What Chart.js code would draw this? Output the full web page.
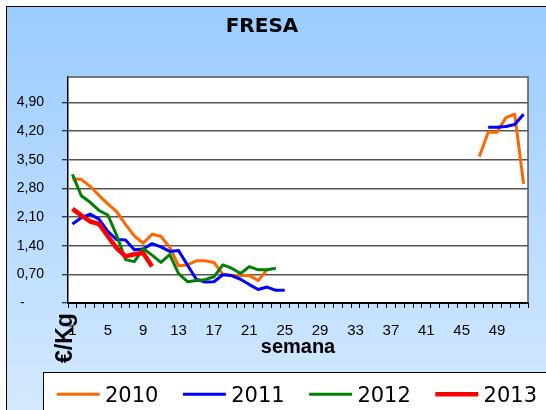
<!DOCTYPE html>
<html>
<head>
<meta charset="utf-8">
<script src="https://cdn.jsdelivr.net/npm/chart.js@4"></script>
<style>
  body { margin: 0; background: #fff; }
  #wrap { width: 546px; height: 410px; }
</style>
</head>
<body>
<div id="wrap"><canvas id="myChart" width="546" height="410"></canvas></div>
<script>
const weeks = ['1','2','3','4','5','6','7','8','9','10',
  '11','12','13','14','15','16','17','18','19','20',
  '21','22','23','24','25','26','27','28','29','30',
  '31','32','33','34','35','36','37','38','39','40',
  '41','42','43','44','45','46','47','48','49','50',
  '51','52'];

const years = ['2010', '2011', '2012', '2013'];

// precio €/Kg por semana (null = sin dato)
const fresa2010 = [3.03, 3.02, 2.85, 2.63, 2.42, 2.23, 1.92, 1.64, 1.46, 1.68,
  1.63, 1.36, 0.91, 0.93, 1.03, 1.03, 0.99, 0.70, 0.67, 0.67,
  0.67, 0.55, 0.81, null, null, null, null, null, null, null,
  null, null, null, null, null, null, null, null, null, null,
  null, null, null, null, null, null, 3.58, 4.17, 4.17, 4.53,
  4.61, 2.91];
const fresa2011 = [1.93, 2.08, 2.17, 2.05, 1.75, 1.55, 1.54, 1.30, 1.32, 1.45,
  1.37, 1.26, 1.28, 0.93, 0.58, 0.51, 0.52, 0.69, 0.67, 0.58,
  0.45, 0.33, 0.39, 0.31, 0.31, null, null, null, null, null,
  null, null, null, null, null, null, null, null, null, null,
  null, null, null, null, null, null, null, 4.29, 4.29, 4.31,
  4.36, 4.61];
const fresa2012 = [3.14, 2.62, 2.46, 2.26, 2.15, 1.65, 1.06, 1.01, 1.33, 1.17,
  0.99, 1.18, 0.72, 0.52, 0.55, 0.57, 0.64, 0.93, 0.85, 0.72,
  0.89, 0.81, 0.81, 0.85, null, null, null, null, null, null,
  null, null, null, null, null, null, null, null, null, null,
  null, null, null, null, null, null, null, null, null, null,
  null, null];
const fresa2013 = [2.30, 2.14, 1.99, 1.93, 1.63, 1.34, 1.14, 1.19, 1.22, 0.89,
  null, null, null, null, null, null, null, null, null, null,
  null, null, null, null, null, null, null, null, null, null,
  null, null, null, null, null, null, null, null, null, null,
  null, null, null, null, null, null, null, null, null, null,
  null, null];

const yTicks = [0, 0.7, 1.4, 2.1, 2.8, 3.5, 4.2, 4.9];

const colors = ['#FF6600', '#0000FF', '#008000', '#FF0000'];
const widths = [3, 3, 3, 4.5];

// fondo, título, eje €/Kg y leyenda al estilo Excel
const decor = {
  id: 'decor',
  beforeDraw(chart) {
    const { ctx, chartArea: a } = chart;
    ctx.save();
    ctx.fillStyle = '#fff';
    ctx.fillRect(0, 0, chart.width, chart.height);
    const g = ctx.createLinearGradient(0, 6, 0, chart.height);
    g.addColorStop(0, '#99CCFF');
    g.addColorStop(1, '#D4E9FF');
    ctx.fillStyle = g;
    ctx.fillRect(6, 6, chart.width, chart.height);
    ctx.strokeStyle = '#000';
    ctx.lineWidth = 1;
    ctx.strokeRect(6.5, 6.5, chart.width + 20, chart.height + 20);
    ctx.fillStyle = '#fff';
    ctx.fillRect(a.left, a.top, a.right - a.left, a.bottom - a.top);
    ctx.restore();
  },
  afterDraw(chart) {
    const { ctx, chartArea: a } = chart;
    ctx.save();
    // borde del área de trazado
    ctx.strokeStyle = '#555';
    ctx.lineWidth = 1.5;
    ctx.beginPath();
    ctx.moveTo(a.left, a.top);
    ctx.lineTo(a.right, a.top);
    ctx.lineTo(a.right, a.bottom);
    ctx.stroke();

    ctx.fillStyle = '#000';
    ctx.font = 'bold 20px "DejaVu Sans"';
    ctx.textAlign = 'center';
    ctx.textBaseline = 'alphabetic';
    ctx.fillText('FRESA', 262, 32);

    ctx.save();
    ctx.translate(71.5, 338);
    ctx.rotate(-Math.PI / 2);
    ctx.font = 'bold 23px "Liberation Sans"';
    ctx.fillText('€/Kg', 0, 0);
    ctx.restore();

    // leyenda
    ctx.fillStyle = '#fff';
    ctx.fillRect(43.5, 372.5, 560, 60);
    ctx.strokeStyle = '#000';
    ctx.lineWidth = 1;
    ctx.strokeRect(43.5, 372.5, 560, 60);
    ctx.font = '21px "DejaVu Sans"';
    ctx.textAlign = 'left';
    chart.data.datasets.forEach((ds, i) => {
      const x0 = 56.7 + i * 126.2;
      ctx.strokeStyle = ds.borderColor;
      ctx.lineWidth = ds.borderWidth;
      ctx.beginPath();
      ctx.moveTo(x0, 394.3);
      ctx.lineTo(x0 + 43, 394.3);
      ctx.stroke();
      ctx.fillStyle = '#000';
      ctx.fillText(ds.label, x0 + 48.3, 401.5);
    });
    ctx.restore();
  }
};

const series = [fresa2010, fresa2011, fresa2012, fresa2013];

const ctx = document.getElementById('myChart').getContext('2d');
const myChart = new Chart(ctx, {
  type: 'line',
  data: {
    labels: weeks,
    datasets: years.map((y, i) => ({
      label: y,
      data: series[i],
      borderColor: colors[i],
      backgroundColor: colors[i],
      borderWidth: widths[i],
      pointRadius: 0,
      tension: 0,
      spanGaps: false,
      borderJoinStyle: 'round',
      order: years.length - i,
    })),
  },
  options: {
    responsive: false,
    animation: false,
    devicePixelRatio: 1,
    layout: { padding: { left: 0, right: 18, top: 77, bottom: 51 } },
    plugins: {
      legend: { display: false },
      title: { display: false },
      tooltip: { enabled: false },
    },
    scales: {
      x: {
        offset: true,
        grid: {
          offset: true,
          drawOnChartArea: false,
          drawTicks: true,
          tickLength: 5,
          tickColor: '#000',
          tickWidth: 1,
        },
        border: { color: '#000', width: 2 },
        ticks: {
          autoSkip: false,
          maxRotation: 0,
          padding: 14,
          color: '#000',
          font: { family: 'Liberation Sans', size: 15 },
          callback: function (val, index) {
            return index % 4 === 0 ? this.getLabelForValue(val) : '';
          },
        },
        title: {
          display: true,
          text: 'semana',
          color: '#000',
          padding: { top: 0, bottom: 0 },
          font: { family: 'Liberation Sans', size: 20, weight: 'bold' },
        },
        afterFit: (s) => { s.height = 56; },
      },
      y: {
        min: 0,
        max: 5.52,
        afterBuildTicks: (axis) => { axis.ticks = yTicks.map((v) => ({ value: v })); },
        grid: {
          color: '#555',
          lineWidth: 1.5,
          drawTicks: true,
          tickLength: 6,
          tickColor: '#000',
          tickWidth: 1,
        },
        border: { color: '#000', width: 1.5 },
        ticks: {
          padding: 18,
          color: '#000',
          font: { family: 'Liberation Sans', size: 14 },
          callback: (v) => (v === 0 ? '-     ' : v.toFixed(2).replace('.', ',')),
        },
        afterFit: (s) => { s.width = 68; },
      },
    },
  },
  plugins: [decor],
});
</script>
</body>
</html>
